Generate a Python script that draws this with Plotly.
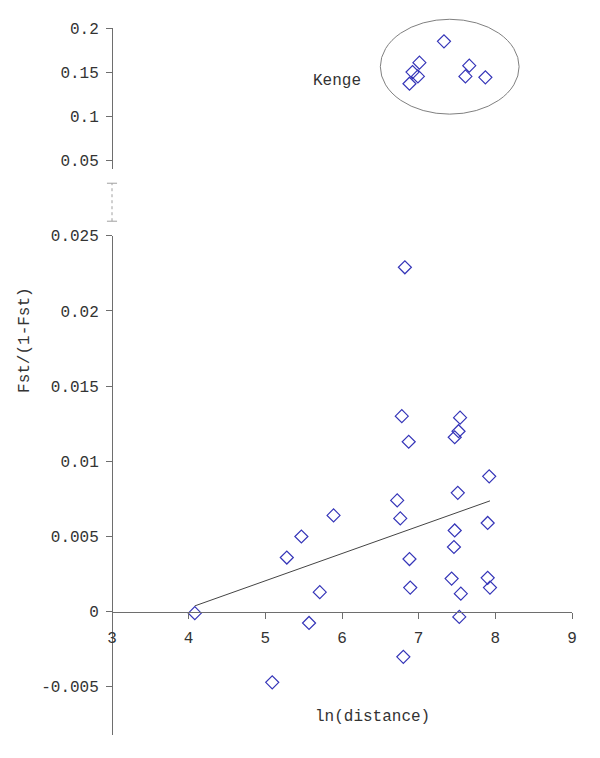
import numpy as np
import plotly.graph_objects as go

# ---- data ----
kenge_x = [7.33, 7.01, 6.92, 6.99, 6.88, 7.66, 7.61, 7.87]
kenge_y = [0.1849, 0.1607, 0.150, 0.1451, 0.1368, 0.1573, 0.1451, 0.1440]

pts_x = [4.08, 5.09, 5.28, 5.47, 5.57, 5.71, 5.89,
         6.72, 6.76, 6.78, 6.80, 6.82, 6.87, 6.88, 6.89,
         7.43, 7.46, 7.47, 7.47, 7.51, 7.52, 7.53, 7.54, 7.55,
         7.90, 7.90, 7.92, 7.93]
pts_y = [-0.0001, -0.0047, 0.0036, 0.0050, -0.00075, 0.0013, 0.0064,
         0.0074, 0.0062, 0.0130, -0.0030, 0.0229, 0.0113, 0.0035, 0.0016,
         0.0022, 0.0043, 0.0054, 0.0116, 0.0079, 0.0120, -0.00035, 0.0129, 0.0012,
         0.0059, 0.00225, 0.0090, 0.0016]

x_ticks = [3, 4, 5, 6, 7, 8, 9]
y_low_ticks = [-0.005, 0, 0.005, 0.01, 0.015, 0.02, 0.025]
y_low_text = ["-0.005", "0", "0.005", "0.01", "0.015", "0.02", "0.025"]
y_up_ticks = [0.05, 0.1, 0.15, 0.2]
y_up_text = ["0.05", "0.1", "0.15", "0.2"]

# ---- layout constants (page pixel targets; page body has an 8px offset) ----
W, H = 600, 758
OFF = 8
PL, PR, PT, PB = 111.7, 571.7, 27.7, 735   # plot box in page pixels
ML, MT = PL - OFF, PT - OFF
MR = W - (PR - OFF)
MB = H - (PB - OFF)
PW, PH = PR - PL, PB - PT
x_range = [3, 9]
low_range = [-0.0082, 0.025]
up_range = [0.0398, 0.2]

def py(pix):
    return (PB - pix) / PH

def px(pix):
    return (pix - PL) / PW

low_dom = [0.0, py(235.5)]
up_dom = [py(169), 1.0]

def ypaper(v, rng, dom):
    return dom[0] + (v - rng[0]) / (rng[1] - rng[0]) * (dom[1] - dom[0])

def xpaper(v):
    return (v - x_range[0]) / (x_range[1] - x_range[0])

FONT = "Liberation Mono, Courier New, monospace"
FS = 16
MCOL = "#3535b8"
AXCOL = "#6e6e6e"
TXT = "#333333"

slope, intercept = np.polyfit(pts_x, pts_y, 1)
tx = [min(pts_x), max(pts_x)]
ty = [intercept + slope * v for v in tx]

fig = go.Figure()
fig.add_trace(go.Scatter(x=tx, y=ty, mode="lines", line=dict(color="#444444", width=1),
                         xaxis="x", yaxis="y", hoverinfo="skip"))
fig.add_trace(go.Scatter(x=pts_x, y=pts_y, mode="markers",
                         marker=dict(symbol="diamond-open", size=10, color=MCOL,
                                     line=dict(width=1.2, color=MCOL)),
                         xaxis="x", yaxis="y", cliponaxis=False))
fig.add_trace(go.Scatter(x=kenge_x, y=kenge_y, mode="markers",
                         marker=dict(symbol="diamond-open", size=10, color=MCOL,
                                     line=dict(width=1.2, color=MCOL)),
                         xaxis="x2", yaxis="y2", cliponaxis=False))

x0_pos = ypaper(0, low_range, low_dom)

axis_common = dict(showgrid=False, zeroline=False, showline=True, linecolor=AXCOL,
                   linewidth=1, ticks="outside", ticklen=6, tickcolor=AXCOL,
                   tickfont=dict(family=FONT, size=FS, color=TXT))

fig.update_layout(
    width=W, height=H, margin=dict(l=ML, r=MR, t=MT, b=MB),
    paper_bgcolor="white", plot_bgcolor="white", showlegend=False,
    xaxis=dict(range=x_range, tickvals=x_ticks, ticktext=[str(v) for v in x_ticks],
               anchor="free", position=x0_pos, ticklabelstandoff=5, **axis_common),
    yaxis=dict(range=low_range, domain=low_dom, tickvals=y_low_ticks, ticktext=y_low_text,
               anchor="free", position=0, ticklabelstandoff=4, **axis_common),
    xaxis2=dict(range=x_range, matches="x", visible=False, anchor="y2"),
    yaxis2=dict(range=up_range, domain=up_dom, tickvals=y_up_ticks, ticktext=y_up_text,
                anchor="free", position=0, ticklabelstandoff=4, **axis_common),
)

# ellipse around the Kenge group (paper coordinates, so it is not clipped)
ell_x = [6.50, 8.31]
ell_y = [0.1023, 0.2099]
fig.add_shape(type="circle", xref="paper", yref="paper",
              x0=xpaper(ell_x[0]), x1=xpaper(ell_x[1]),
              y0=ypaper(ell_y[0], up_range, up_dom), y1=ypaper(ell_y[1], up_range, up_dom),
              line=dict(color="#808080", width=1))

# axis break marks
by0, by1 = py(221), py(183)
fig.add_shape(type="line", xref="paper", yref="paper", x0=0, x1=0, y0=by0, y1=by1,
              line=dict(color="#a0a0a0", width=1, dash="dot"))
for yy in (by0, by1):
    fig.add_shape(type="line", xref="paper", yref="paper", x0=-0.011, x1=0.011, y0=yy, y1=yy,
                  line=dict(color="#a0a0a0", width=1))

fig.add_annotation(text="Kenge", x=5.93, y=0.1394, xref="x2", yref="y2", showarrow=False,
                   xanchor="center", yanchor="middle",
                   font=dict(family=FONT, size=FS, color=TXT))
fig.add_annotation(text="Fst/(1-Fst)", textangle=-90, xref="paper", yref="paper",
                   x=px(24.5), y=py(340), showarrow=False,
                   xanchor="center", yanchor="middle",
                   font=dict(family=FONT, size=FS, color=TXT))
fig.add_annotation(text="ln(distance)", xref="paper", yref="paper",
                   x=px(372), y=py(716.7), showarrow=False,
                   xanchor="center", yanchor="middle",
                   font=dict(family=FONT, size=FS, color=TXT))

fig.write_html("out.html")
